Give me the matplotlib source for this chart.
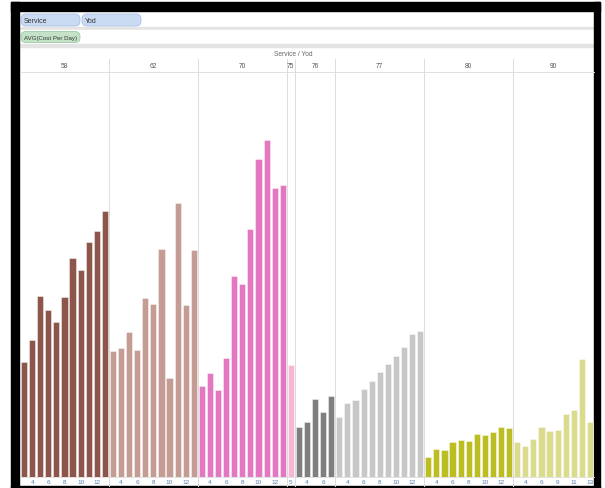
import matplotlib.pyplot as plt
from matplotlib.patches import Rectangle, FancyBboxPatch

plt.rcParams['font.family'] = ['Liberation Sans', 'DejaVu Sans']

# Tableau view: AVG(Cost Per Day) by Service / Yod
services = ['58', '62', '70', '75', '76', '77', '80', '90']
yods = [
    [3, 4, 5, 6, 7, 8, 9, 10, 11, 12, 13],
    [3, 4, 5, 6, 7, 8, 9, 10, 11, 12, 13],
    [3, 4, 5, 6, 7, 8, 9, 10, 11, 12, 13],
    [5],
    [3, 4, 5, 6, 7],
    [3, 4, 5, 6, 7, 8, 9, 10, 11, 12, 13],
    [3, 4, 5, 6, 7, 8, 9, 10, 11, 12, 13],
    [3, 4, 5, 6, 8, 9, 10, 11, 12, 13],
]
avg_cost = [
    [115, 137, 181, 167, 155, 180, 219, 207, 235, 246, 266],
    [126, 129, 145, 127, 179, 173, 228, 99, 274, 172, 227],
    [91, 104, 87, 119, 201, 193, 248, 318, 337, 289, 292],
    [112],
    [50, 55, 78, 65, 81],
    [60, 74, 77, 88, 96, 105, 113, 121, 130, 143, 146],
    [20, 28, 27, 35, 37, 36, 43, 42, 45, 50, 49],
    [35, 31, 38, 50, 46, 47, 63, 67, 118, 55],
]
colors = ['#8c564b', '#c49c94', '#e377c2', '#f7b6d2',
          '#7f7f7f', '#c7c7c7', '#bcbd22', '#dbdb8d']

W, H = 605, 489
fig = plt.figure(figsize=(W / 100, H / 100), dpi=100)

# pixel-space layer for the Tableau chrome
bg = fig.add_axes([0, 0, 1, 1], zorder=0)
bg.set_xlim(0, W)
bg.set_ylim(H, 0)
bg.axis('off')

# shelves
bg.add_patch(Rectangle((19, 12), 575, 16, color='white'))
bg.add_patch(Rectangle((19, 28), 575, 3, color='#e4e4e4'))
bg.add_patch(Rectangle((19, 31), 575, 14, color='white'))
bg.add_patch(Rectangle((19, 45), 575, 3, color='#e4e4e4'))

def pill(x, y, w, h, text, fc, ec, size=5):
    bg.add_patch(FancyBboxPatch((x, y), w, h, boxstyle='round,pad=0,rounding_size=5',
                                fc=fc, ec=ec, lw=0.6))
    bg.text(x + 3, y + h / 2 + 0.5, text, fontsize=size, color='#333333',
            va='center', ha='left')

pill(21, 15, 59, 12, 'Service', '#c9daf3', '#a9c0e4')
pill(82, 15, 59, 12, 'Yod', '#c9daf3', '#a9c0e4')
pill(21, 32.5, 59, 11, 'AVG(Cost Per Day)', '#c3e2c8', '#9fcca7', size=4.4)

bg.text(293, 55, 'Service / Yod', fontsize=4.8, color='#666666', ha='center', va='center')
bg.plot([20, 594], [72.5, 72.5], color='#e0e0e0', lw=0.7)

# black frame of the screenshot
bg.add_patch(Rectangle((11, 3), 589, 9, color='black'))
bg.add_patch(Rectangle((11, 3), 8, 486, color='black'))
bg.add_patch(Rectangle((594, 3), 6, 486, color='black'))
bg.add_patch(Rectangle((11, 487), 589, 2, color='black'))

# main bars
ax = fig.add_axes([20 / W, 1 - 478 / H, 574 / W, 405 / H], zorder=1)
ax.set_facecolor('none')

pos = 0
tick_pos, tick_lab = [], []
bounds = []
for i, s in enumerate(services):
    n = len(yods[i])
    xs = list(range(pos, pos + n))
    ax.bar(xs, avg_cost[i], width=0.76, color=colors[i],
           edgecolor=(1, 1, 1, 0.6), linewidth=0.5)
    for j, y in enumerate(yods[i]):
        if j % 2 == 1 or n == 1:
            tick_pos.append(pos + j)
            tick_lab.append(str(y))
    ax.text(pos + (n - 1) / 2, (478 - 66) / 405, s, transform=ax.get_xaxis_transform(),
            fontsize=4.8, color='#555555', ha='center', va='center', clip_on=False)
    pos += n
    bounds.append(pos - 0.5)

for b in bounds[:-1]:
    ax.axvline(b, ymin=(478 - 487) / 405, ymax=(478 - 60) / 405,
               color='#dcdcdc', lw=0.7, clip_on=False)

ax.set_xlim(-0.5, pos - 0.5)
ax.set_ylim(0, 405)
ax.set_yticks([])
ax.set_xticks(tick_pos)
ax.set_xticklabels(tick_lab, fontsize=4.6, color='#5b7fae')
ax.tick_params(axis='x', length=0, pad=1.5)
for side in ['left', 'right', 'top']:
    ax.spines[side].set_visible(False)
ax.spines['bottom'].set_color('#dcdcdc')
ax.spines['bottom'].set_linewidth(0.6)

fig.savefig('out.png', dpi=100)
